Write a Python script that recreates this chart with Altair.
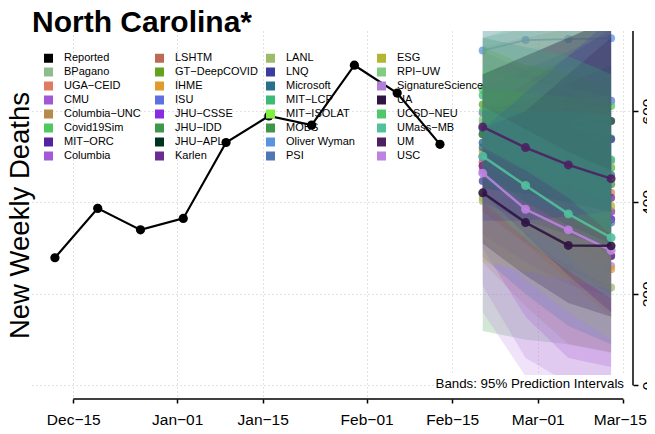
import altair as alt
import pandas as pd

# ---------------- data ----------------
REPORT_DATES = ["2020-12-12", "2020-12-19", "2020-12-26", "2021-01-02", "2021-01-09",
                "2021-01-16", "2021-01-23", "2021-01-30", "2021-02-06", "2021-02-13"]
REPORT_VALUES = [279, 387, 340, 365, 531, 589, 569, 700, 639, 527]

FORECAST_DATES = ["2021-02-20", "2021-02-27", "2021-03-06", "2021-03-13"]

LEGEND_COL1 = ["Reported", "BPagano", "UGA−CEID", "CMU", "Columbia−UNC", "Covid19Sim", "MIT−ORC", "Columbia"]
LEGEND_COL2 = ["LSHTM", "GT−DeepCOVID", "IHME", "ISU", "JHU−CSSE", "JHU−IDD", "JHU−APL", "Karlen"]
LEGEND_COL3 = ["LANL", "LNQ", "Microsoft", "MIT−LCP", "MIT−ISOLAT", "MOBS", "Oliver Wyman", "PSI"]
LEGEND_COL4 = ["ESG", "RPI−UW", "SignatureScience", "UA", "UCSD−NEU", "UMass−MB", "UM", "USC"]

COLORS = {
    "Reported": "#000000", "BPagano": "#8fbc8f", "UGA−CEID": "#e07b61", "CMU": "#a357d6",
    "Columbia−UNC": "#b88a4a", "Covid19Sim": "#4fc95f", "MIT−ORC": "#5423a0", "Columbia": "#a35ad6",
    "LSHTM": "#bc6a55", "GT−DeepCOVID": "#62a21e", "IHME": "#e09b2d", "ISU": "#5f6fe0",
    "JHU−CSSE": "#8a2be2", "JHU−IDD": "#3f964f", "JHU−APL": "#00331f", "Karlen": "#6a2c91",
    "LANL": "#9fb96d", "LNQ": "#3c3c9e", "Microsoft": "#2a708a", "MIT−LCP": "#3abb78",
    "MIT−ISOLAT": "#7ff040", "MOBS": "#3f9648", "Oliver Wyman": "#5b93e0", "PSI": "#4f76b5",
    "ESG": "#b3b633", "RPI−UW": "#80cc84", "SignatureScience": "#b07fd9", "UA": "#2f1444",
    "UCSD−NEU": "#50c86a", "UMass−MB": "#52bf9d", "UM": "#4d2063", "USC": "#be82e0",
}

FC_POINT = {
    "BPagano": [575, 545, 515, 490], "UGA−CEID": [487, 470, 445, 421], "CMU": [596, 520, 440, 363],
    "Columbia−UNC": [500, 460, 420, 380], "Covid19Sim": [647, 630, 620, 611], "MIT−ORC": [500, 430, 350, 283],
    "Columbia": [470, 430, 400, 380], "LSHTM": [480, 430, 360, 283], "GT−DeepCOVID": [614, 560, 520, 476],
    "IHME": [512, 420, 330, 254], "ISU": [560, 580, 600, 622], "JHU−CSSE": [480, 430, 390, 363],
    "JHU−IDD": [530, 470, 420, 380], "JHU−APL": [549, 560, 570, 578], "Karlen": [480, 455, 430, 410],
    "LANL": [403, 323, 257, 214], "LNQ": [447, 470, 500, 538], "Microsoft": [520, 500, 480, 460],
    "MIT−LCP": [634, 600, 560, 494], "MOBS": [549, 520, 490, 440], "Oliver Wyman": [732, 755, 757, 759],
    "PSI": [531, 480, 410, 356], "ESG": [410, 405, 398, 392], "RPI−UW": [582, 547, 512, 476],
    "SignatureScience": [490, 420, 340, 261], "UA": [421, 356, 306, 305], "UCSD−NEU": [600, 580, 560, 540],
    "UMass−MB": [501, 437, 375, 323], "UM": [565, 520, 482, 452], "USC": [464, 385, 340, 295],
}
FC_LOWER = {
    "BPagano": [500, 450, 400, 350], "UGA−CEID": [380, 340, 300, 260], "CMU": [300, 150, 60, 40],
    "Columbia−UNC": [269, 173, 90, 72], "Covid19Sim": [540, 500, 470, 440], "MIT−ORC": [420, 330, 240, 160],
    "Columbia": [330, 270, 220, 195], "LSHTM": [380, 310, 230, 150], "GT−DeepCOVID": [500, 430, 370, 310],
    "IHME": [480, 380, 280, 200], "ISU": [480, 480, 480, 480], "JHU−CSSE": [380, 310, 250, 200],
    "JHU−IDD": [119, 100, 90, 72], "JHU−APL": [430, 420, 400, 380], "Karlen": [400, 360, 330, 300],
    "LANL": [320, 230, 160, 100], "LNQ": [360, 360, 370, 380], "Microsoft": [440, 400, 370, 340],
    "MIT−LCP": [520, 470, 410, 330], "MOBS": [450, 400, 350, 290], "Oliver Wyman": [640, 640, 630, 620],
    "PSI": [280, 200, 130, 90], "ESG": [270, 250, 230, 210], "RPI−UW": [480, 430, 380, 330],
    "SignatureScience": [217, 60, 5, 0], "UA": [310, 240, 180, 150], "UCSD−NEU": [510, 470, 430, 400],
    "UMass−MB": [400, 320, 250, 190], "UM": [470, 400, 350, 310], "USC": [160, 20, 0, 0],
}
FC_UPPER = {
    "BPagano": [650, 640, 630, 630], "UGA−CEID": [600, 610, 620, 630], "CMU": [730, 690, 640, 580],
    "Columbia−UNC": [740, 760, 780, 800], "Covid19Sim": [760, 790, 820, 850], "MIT−ORC": [600, 620, 660, 700],
    "Columbia": [620, 600, 590, 580], "LSHTM": [600, 570, 510, 440], "GT−DeepCOVID": [740, 700, 680, 650],
    "IHME": [550, 470, 390, 320], "ISU": [650, 690, 730, 770], "JHU−CSSE": [590, 560, 540, 530],
    "JHU−IDD": [900, 900, 900, 900], "JHU−APL": [680, 720, 760, 800], "Karlen": [600, 660, 720, 780],
    "LANL": [500, 430, 370, 330], "LNQ": [560, 640, 720, 800], "Microsoft": [600, 600, 600, 590],
    "MIT−LCP": [760, 740, 720, 680], "MOBS": [650, 640, 630, 600], "Oliver Wyman": [830, 880, 900, 930],
    "PSI": [650, 620, 570, 520], "ESG": [540, 560, 580, 600], "RPI−UW": [690, 670, 650, 630],
    "SignatureScience": [760, 780, 800, 820], "UA": [560, 600, 680, 760], "UCSD−NEU": [690, 700, 700, 700],
    "UMass−MB": [610, 560, 510, 470], "UM": [680, 720, 760, 800], "USC": [760, 740, 720, 700],
}
HIGHLIGHT = ["UA", "UMass−MB", "UM", "USC"]
# the order in which the bands are painted (later ones lie on top)
DRAW_ORDER = ["JHU−IDD", "Columbia−UNC", "USC", "SignatureScience", "CMU", "Columbia", "JHU−CSSE", "ISU",
              "Oliver Wyman", "PSI", "IHME", "UGA−CEID", "LSHTM", "ESG", "LANL", "Karlen", "MIT−ORC",
              "GT−DeepCOVID", "BPagano", "RPI−UW", "Covid19Sim", "UCSD−NEU", "JHU−APL", "UM", "MOBS",
              "UA", "UMass−MB", "LNQ", "Microsoft", "MIT−LCP"]

X_TICKS = ["2020-12-15", "2021-01-01", "2021-01-15", "2021-02-01", "2021-02-15", "2021-03-01", "2021-03-15"]
Y_TICKS = [0, 200, 400, 600]
TITLE = "North Carolina*"
Y_TITLE = "New Weekly Deaths"
NOTE = "Bands: 95% Prediction Intervals"

# ---------------- tables ----------------
legend_domain = LEGEND_COL1 + LEGEND_COL2 + LEGEND_COL3 + LEGEND_COL4
legend_range = [COLORS[m] for m in legend_domain]

rows = []
for m in DRAW_ORDER:
    for i, d in enumerate(FORECAST_DATES):
        rows.append({"model": m, "date": d, "point": FC_POINT[m][i], "lo": FC_LOWER[m][i],
                     "hi": FC_UPPER[m][i]})
fc = pd.DataFrame(rows)
fc_norm = fc[~fc.model.isin(HIGHLIGHT)]
fc_hl = fc[fc.model.isin(HIGHLIGHT)]
rep = pd.DataFrame({"date": REPORT_DATES, "value": REPORT_VALUES})

W, H = 601, 368
FONT = "Liberation Sans"
GRID = "#c4c4c4"


def dt(s, h=0):
    y, mo, d = (int(p) for p in s.split("-"))
    return alt.DateTime(year=y, month=mo, date=d, hours=h, utc=True)


xscale = alt.Scale(type="utc", domain=[dt("2020-12-08", 6), dt("2021-03-16", 14)], nice=False)
yscale = alt.Scale(domain=[-29.8, 774.8], nice=False, zero=False)

x_axis = alt.Axis(values=[dt(t) for t in X_TICKS],
                  labelExpr="utcFormat(datum.value, '%b') + '−' + utcFormat(datum.value, '%d')",
                  grid=True, gridDash=[1, 3], gridColor=GRID, gridWidth=1, domain=False,
                  tickSize=4, tickWidth=1.5, tickColor="black", labelFontSize=15.5, labelFont=FONT,
                  labelColor="black", labelPadding=9, title=None, labelFlush=12, labelFlushOffset=23)
right_axis = alt.Axis(orient="right", values=Y_TICKS, grid=True, gridDash=[1, 3], gridColor=GRID,
                      gridWidth=1, domain=False, tickSize=5, tickWidth=1.5, tickColor="black",
                      labelAngle=270, labelAlign="center", labelBaseline="top", labelFontSize=15.5,
                      labelFont=FONT, labelColor="black", labelPadding=2, title=None)
left_axis = alt.Axis(orient="left", title=Y_TITLE, labels=False, ticks=False, domain=False,
                     grid=False, titleFontSize=27.5, titleFont=FONT, titleFontWeight="normal",
                     titleColor="black", titlePadding=4, titleBaseline="alphabetic")

X = lambda f: alt.X(f, type="temporal", scale=xscale, axis=x_axis)
color_scale = alt.Scale(domain=legend_domain, range=legend_range)
legend = alt.Legend(
    orient="none", legendX=11, legendY=21.5, columns=4, direction="vertical", title=None,
    symbolType="square", symbolSize=81, symbolStrokeWidth=0, symbolOpacity=1, symbolLimit=40,
    labelFontSize=11, labelFont=FONT, labelColor="black", labelOffset=10, rowPadding=2,
    columnPadding=3, gridAlign="all", zindex=0)
COLOR = alt.Color("model:N", scale=color_scale, legend=legend)

bands = alt.Chart(fc).mark_area(opacity=0.23, clip=True).encode(
    x=X("date"),
    y=alt.Y("lo:Q", scale=yscale, axis=right_axis),
    y2="hi:Q",
    color=COLOR,
)


def model_layers(df, op, width, size):
    ln = alt.Chart(df).mark_line(strokeWidth=width, opacity=op, clip=True).encode(
        x=X("date"), y=alt.Y("point:Q", scale=yscale, axis=None), color=COLOR, detail="model:N")
    pt = alt.Chart(df).mark_circle(size=size, opacity=op, clip=True).encode(
        x=X("date"), y=alt.Y("point:Q", scale=yscale, axis=None), color=COLOR)
    return ln + pt


rep_line = alt.Chart(rep).mark_line(color="black", strokeWidth=2.2).encode(
    x=X("date"), y=alt.Y("value:Q", scale=yscale, axis=left_axis))
rep_pts = alt.Chart(rep).mark_circle(color="black", size=85, opacity=1).encode(
    x=X("date"), y=alt.Y("value:Q", scale=yscale, axis=None))

right_line = alt.Chart(pd.DataFrame({"v": [0]})).mark_rule(color="black", strokeWidth=1.5).encode(
    x=alt.value(W), y=alt.Y("v:Q", scale=yscale, axis=None), y2=alt.value(0))
bottom_line = alt.Chart(pd.DataFrame({"a": [X_TICKS[0]], "b": [X_TICKS[-1]]})).mark_rule(
    color="black", strokeWidth=1.5).encode(x=X("a"), x2="b:T", y=alt.value(H))

note_df = pd.DataFrame({"t": [NOTE]})
note_box = alt.Chart(note_df).mark_rect(color="white").encode(
    x=alt.value(403), x2=alt.value(598), y=alt.value(344), y2=alt.value(367))
note = alt.Chart(note_df).mark_text(align="right", baseline="alphabetic", fontSize=13.3, font=FONT,
                                    color="black").encode(
    x=alt.value(592), y=alt.value(357), text="t:N")

title_df = pd.DataFrame({"t": [TITLE]})
title = alt.Chart(title_df).mark_text(align="left", baseline="alphabetic", fontSize=30, font=FONT,
                                      fontWeight="bold", color="black").encode(
    x=alt.value(0), y=alt.value(1), text="t:N")

chart = alt.layer(
    model_layers(fc_norm, 0.75, 1.8, 65), bands, model_layers(fc_hl, 0.9, 2.5, 80), note_box, note,
    rep_line, rep_pts, right_line, bottom_line, title,
).resolve_axis(y="independent").properties(
    width=W, height=H,
    autosize=alt.AutoSizeParams(type="none"),
    padding={"left": 24, "top": 23, "right": 14, "bottom": 27},
).configure_view(strokeWidth=0)

chart.save("out.html", embed_options={"renderer": "svg", "actions": False})
